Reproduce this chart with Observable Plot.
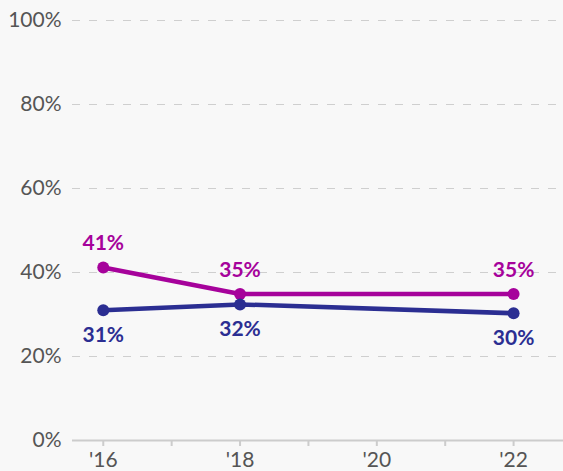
<!DOCTYPE html>
<html>
<head>
<meta charset="utf-8">
<script src="https://cdn.jsdelivr.net/npm/d3@7"></script>
<script src="https://cdn.jsdelivr.net/npm/@observablehq/plot@0.6"></script>
<style>
  html, body { margin: 0; padding: 0; background: #f8f8f8; }
  #chart svg { display: block; background: #f8f8f8; }
</style>
</head>
<body>
<div id="chart"></div>
<script>
const years = [2016, 2018, 2022];
const pinkValues = [41.2, 34.9, 34.9];
const blueValues = [31.0, 32.4, 30.3];
const pinkLabels = ["41%", "35%", "35%"];
const blueLabels = ["31%", "32%", "30%"];
const yTicks = [0, 20, 40, 60, 80, 100];
const xTicks = [2016, 2017, 2018, 2019, 2020, 2021, 2022];

const pinkColor = "#a6029b";
const blueColor = "#2b2e92";

const pink = years.map((x, i) => ({x, y: pinkValues[i], label: pinkLabels[i]}));
const blue = years.map((x, i) => ({x, y: blueValues[i], label: blueLabels[i]}));

const chart = Plot.plot({
  width: 563,
  height: 471,
  marginLeft: 72,
  marginRight: 0,
  marginTop: 20,
  marginBottom: 31,
  style: {fontFamily: "Lato, sans-serif", background: "#f8f8f8"},
  x: {domain: [2015.55, 2022.73]},
  y: {domain: [0, 100]},
  marks: [
    Plot.ruleY(yTicks.filter(d => d > 0), {stroke: "#cfcfcf", strokeWidth: 1.2, strokeDasharray: "8,9"}),
    Plot.ruleY([0], {stroke: "#cccccc", strokeWidth: 2}),
    Plot.axisY({ticks: yTicks, tickSize: 0, tickPadding: 11, tickFormat: d => d + "%", fontSize: 21, fill: "#555", label: null}),
    Plot.axisX({ticks: xTicks, tickSize: 6, stroke: "#cccccc", strokeWidth: 2, tickPadding: 6, fontSize: 21, fill: "#555", label: null,
      tickFormat: d => d % 2 === 0 ? "'" + String(d).slice(2) : ""}),
    Plot.line(pink, {x: "x", y: "y", stroke: pinkColor, strokeWidth: 4.5}),
    Plot.line(blue, {x: "x", y: "y", stroke: blueColor, strokeWidth: 4.5}),
    Plot.dot(pink, {x: "x", y: "y", fill: pinkColor, r: 6}),
    Plot.dot(blue, {x: "x", y: "y", fill: blueColor, r: 6}),
    Plot.text(pink, {x: "x", y: "y", text: "label", fill: pinkColor, dy: -24, fontSize: 21, fontWeight: "bold"}),
    Plot.text(blue, {x: "x", y: "y", text: "label", fill: blueColor, dy: 25, fontSize: 21, fontWeight: "bold"})
  ]
});
document.getElementById("chart").appendChild(chart);
</script>
</body>
</html>
